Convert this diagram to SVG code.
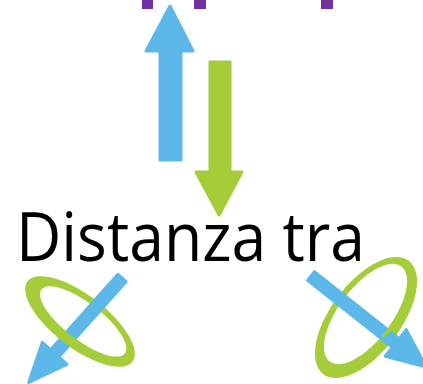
<svg xmlns="http://www.w3.org/2000/svg" xmlns:xlink="http://www.w3.org/1999/xlink" width="423" height="384" viewBox="0 0 423 384">
<style>
.blue{fill:#5BB8E8;stroke:#5BB8E8;stroke-width:3;stroke-linejoin:round}
.green{fill:#A4CD39;stroke:#A4CD39;stroke-width:3;stroke-linejoin:round}
.ring{fill:#A4CD39;fill-rule:evenodd}
.sq{fill:#7030A0}
.lbl{font-family:"Open Sans",Lato,"Liberation Sans",sans-serif;font-size:67px;font-weight:500;fill:#000}
</style>
<defs>
<path id="ringL" class="ring" transform="translate(80,321.5) rotate(37.5)" d="M-66,0 A66,26.5 0 1 0 66,0 A66,26.5 0 1 0 -66,0 Z M-50,-2 A52.5,18.5 0 1 0 55,-2 A52.5,18.5 0 1 0 -50,-2 Z"/>
<path id="ringR" class="ring" transform="translate(366,317.5) rotate(-53)" d="M-71,0 A71,35 0 1 0 71,0 A71,35 0 1 0 -71,0 Z M-57,-2.5 A59.5,26.5 0 1 0 62,-2.5 A59.5,26.5 0 1 0 -57,-2.5 Z"/>
<clipPath id="cL"><circle cx="70" cy="343" r="15"/></clipPath>
<clipPath id="cR"><circle cx="378" cy="322" r="16"/></clipPath>
</defs>
<g id="dots">
<rect class="sq" x="142" y="0" width="11" height="9"/>
<rect class="sq" x="194" y="0" width="12" height="9"/>
<rect class="sq" x="321" y="0" width="12" height="9"/>
</g>
<g id="connectors">
<polygon id="arrow-up" class="blue" points="170,6 193,51 181,51 181,160 160,160 160,51 146,51"/>
<polygon id="arrow-down" class="green" points="210,62 230,62 230,172 242,172 219,215 196,172 210,172"/>
</g>
<g id="label">
<text class="lbl" x="16" y="261" textLength="349" lengthAdjust="spacingAndGlyphs">Distanza tra</text>
</g>
<g id="rotation-left">
<use xlink:href="#ringL"/>
<polygon class="blue" transform="translate(122,278) rotate(131.8)" points="0,-5.5 101,-5.5 101,-16.5 140,0 101,16.5 101,5.5 0,5.5"/>
<use xlink:href="#ringL" clip-path="url(#cL)"/>
</g>
<g id="rotation-right">
<use xlink:href="#ringR"/>
<polygon class="blue" transform="translate(311,276) rotate(38.3)" points="0,-5.5 108,-5.5 108,-17 147,0 108,17 108,5.5 0,5.5"/>
<use xlink:href="#ringR" clip-path="url(#cR)"/>
</g>
</svg>
